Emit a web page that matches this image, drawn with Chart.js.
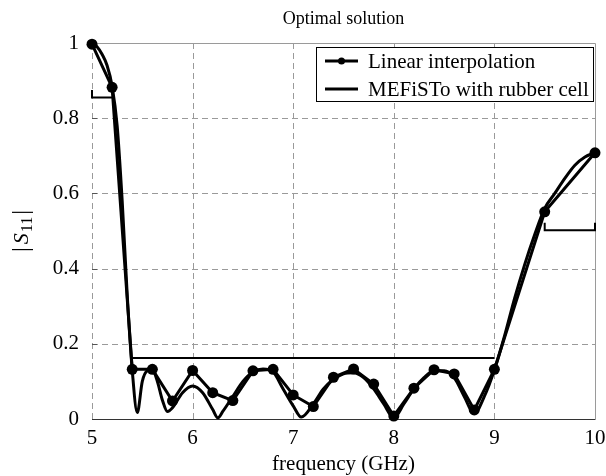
<!DOCTYPE html>
<html>
<head>
<meta charset="utf-8">
<script src="https://cdn.jsdelivr.net/npm/chart.js@4/dist/chart.umd.min.js"></script>
<style>
  body { margin: 0; background: #fff; }
  canvas { display: block; }
</style>
</head>
<body>
<canvas id="s11Chart" width="606" height="476"></canvas>
<script>
// Linear interpolation samples (GHz, |S11|)
const linFreq = [5, 5.2, 5.4, 5.6, 5.8, 6.0, 6.2, 6.4, 6.6, 6.8, 7.0, 7.2, 7.4, 7.6, 7.8, 8.0, 8.2, 8.4, 8.6, 8.8, 9.0, 9.5, 10];
const linS11 = [0.997, 0.882, 0.132, 0.132, 0.048, 0.129, 0.07, 0.049, 0.128, 0.132, 0.064, 0.033, 0.111, 0.133, 0.093, 0.008, 0.082, 0.131, 0.12, 0.024, 0.132, 0.551, 0.708];

// MEFiSTo with rubber cell
const mefFreq = [5.0, 5.05, 5.1, 5.15, 5.2, 5.25, 5.3, 5.35, 5.4, 5.45, 5.5, 5.55, 5.6, 5.65, 5.7, 5.75, 5.8, 5.9, 6.0, 6.1, 6.2, 6.25, 6.3, 6.4, 6.5, 6.6, 6.7, 6.8, 6.9, 7.0, 7.08, 7.2, 7.3, 7.4, 7.5, 7.6, 7.7, 7.8, 7.9, 8.0, 8.1, 8.2, 8.3, 8.4, 8.5, 8.6, 8.7, 8.8, 8.9, 9.0, 9.1, 9.2, 9.3, 9.4, 9.5, 9.6, 9.7, 9.8, 9.9, 10.0];
const mefS11 = [1.0, 0.99, 0.97, 0.94, 0.885, 0.78, 0.58, 0.33, 0.13, 0.017, 0.1, 0.128, 0.13, 0.1, 0.05, 0.02, 0.03, 0.07, 0.088, 0.07, 0.025, 0.003, 0.02, 0.06, 0.1, 0.125, 0.133, 0.125, 0.08, 0.035, 0.005, 0.04, 0.08, 0.105, 0.12, 0.123, 0.11, 0.08, 0.04, 0.003, 0.04, 0.08, 0.11, 0.128, 0.128, 0.11, 0.06, 0.015, 0.06, 0.13, 0.22, 0.32, 0.41, 0.49, 0.56, 0.6, 0.64, 0.675, 0.697, 0.708];

// specification mask segments
const mask1Freq = [5, 5, 5.2];
const mask1S11 = [0.875, 0.855, 0.855];
const mask2Freq = [5.4, 9.0];
const mask2S11 = [0.162, 0.162];
const mask3Freq = [9.5, 9.5, 10, 10];
const mask3S11 = [0.522, 0.502, 0.502, 0.522];

const xTicks = [5, 6, 7, 8, 9, 10];
const yTicks = [0, 0.2, 0.4, 0.6, 0.8, 1];

const legendLabels = ["Linear interpolation", "MEFiSTo with rubber cell"];
const titleText = "Optimal solution";
const xLabel = "frequency (GHz)";

const SERIF = "'Liberation Serif', 'Times New Roman', serif";

function toPoints(xs, ys) {
  return xs.map((x, i) => ({ x: x, y: ys[i] }));
}

function maskSet(xs, ys) {
  return {
    data: toPoints(xs, ys),
    borderColor: "#000",
    borderWidth: 2,
    pointRadius: 0,
    tension: 0,
    clip: false,
  };
}

// grid, frame, labels and legend box
const decorPlugin = {
  id: "decor",
  beforeDatasetsDraw(chart) {
    const ctx = chart.ctx;
    const a = chart.chartArea;
    const xs = chart.scales.x;
    const ys = chart.scales.y;
    ctx.save();
    ctx.lineWidth = 1;
    ctx.strokeStyle = "#9a9a9a";
    ctx.setLineDash([6, 4]);
    xTicks.slice(0, -1).forEach((v) => {
      const px = Math.round(xs.getPixelForValue(v)) + 0.5;
      ctx.beginPath();
      ctx.moveTo(px, a.top);
      ctx.lineTo(px, a.bottom);
      ctx.stroke();
    });
    yTicks.slice(1, -1).forEach((v) => {
      const py = Math.round(ys.getPixelForValue(v)) + 0.5;
      ctx.beginPath();
      ctx.moveTo(a.left, py);
      ctx.lineTo(a.right, py);
      ctx.stroke();
    });
    ctx.setLineDash([]);
    // solid top and right frame
    const top = Math.round(a.top) + 0.5;
    const right = Math.round(a.right) + 0.5;
    ctx.beginPath();
    ctx.moveTo(a.left, top);
    ctx.lineTo(right, top);
    ctx.lineTo(right, a.bottom);
    ctx.stroke();
    // small inward ticks on the left axis
    ctx.strokeStyle = "#555";
    yTicks.forEach((v) => {
      const py = Math.round(ys.getPixelForValue(v)) + 0.5;
      ctx.beginPath();
      ctx.moveTo(a.left, py);
      ctx.lineTo(a.left + 5, py);
      ctx.stroke();
    });
    // bottom axis
    ctx.strokeStyle = "#333";
    const bottom = Math.round(a.bottom) + 0.5;
    ctx.beginPath();
    ctx.moveTo(a.left, bottom);
    ctx.lineTo(right, bottom);
    ctx.stroke();
    ctx.restore();
  },
  afterDraw(chart) {
    const ctx = chart.ctx;
    const a = chart.chartArea;
    const cx = (a.left + a.right) / 2;
    ctx.save();
    ctx.fillStyle = "#000";
    ctx.textAlign = "center";
    ctx.textBaseline = "middle";
    ctx.font = "18px " + SERIF;
    ctx.fillText(titleText, cx, 19);
    ctx.font = "21px " + SERIF;
    ctx.fillText(xLabel, cx, 464);

    // y label |S11| rotated
    ctx.save();
    ctx.translate(22, (a.top + a.bottom) / 2);
    ctx.rotate(-Math.PI / 2);
    ctx.textAlign = "left";
    const parts = [
      { t: "|", f: "24px " + SERIF, dy: 0, gap: 3 },
      { t: "S", f: "italic 22px " + SERIF, dy: 0, gap: 1 },
      { t: "11", f: "16px " + SERIF, dy: 6, gap: 2 },
      { t: "|", f: "24px " + SERIF, dy: 0, gap: 0 },
    ];
    let w = 0;
    parts.forEach((p) => {
      ctx.font = p.f;
      p.w = ctx.measureText(p.t).width + p.gap;
      w += p.w;
    });
    let x = -w / 2;
    parts.forEach((p) => {
      ctx.font = p.f;
      ctx.fillText(p.t, x, p.dy);
      x += p.w;
    });
    ctx.restore();

    // legend box
    const bx = 316, by = 47, bw = 277, bh = 54;
    ctx.fillStyle = "#fff";
    ctx.fillRect(bx, by, bw, bh);
    ctx.strokeStyle = "#000";
    ctx.lineWidth = 1;
    ctx.strokeRect(bx + 0.5, by + 0.5, bw, bh);
    const rows = [61, 89];
    ctx.fillStyle = "#000";
    ctx.textAlign = "left";
    ctx.font = "21px " + SERIF;
    rows.forEach((ry, i) => {
      ctx.lineWidth = 3;
      ctx.beginPath();
      ctx.moveTo(325, ry);
      ctx.lineTo(358, ry);
      ctx.stroke();
      if (i === 0) {
        ctx.beginPath();
        ctx.arc(341.5, ry, 3.5, 0, Math.PI * 2);
        ctx.fill();
      }
      ctx.fillText(legendLabels[i], 368, ry + 1);
    });
    ctx.restore();
  },
};

const ctx = document.getElementById("s11Chart").getContext("2d");
new Chart(ctx, {
  type: "line",
  data: {
    datasets: [
      maskSet(mask1Freq, mask1S11),
      maskSet(mask2Freq, mask2S11),
      maskSet(mask3Freq, mask3S11),
      {
        data: toPoints(mefFreq, mefS11),
        borderColor: "#000",
        borderWidth: 3,
        pointRadius: 0,
        cubicInterpolationMode: "monotone",
        clip: false,
      },
      {
        data: toPoints(linFreq, linS11),
        borderColor: "#000",
        backgroundColor: "#000",
        borderWidth: 3,
        pointRadius: 5.5,
        pointBackgroundColor: "#000",
        pointBorderWidth: 0,
        tension: 0,
        clip: false,
      },
    ],
  },
  options: {
    responsive: false,
    animation: false,
    devicePixelRatio: 1,
    layout: { padding: { top: 43, right: 11, left: 0, bottom: 0 } },
    plugins: {
      legend: { display: false },
      tooltip: { enabled: false },
    },
    scales: {
      x: {
        type: "linear",
        min: 5,
        max: 10,
        afterFit: (s) => {
          s.height = 57;
          s.paddingLeft = 0;
          s.paddingRight = 0;
        },
        afterBuildTicks: (s) => { s.ticks = xTicks.map((v) => ({ value: v })); },
        grid: { display: false, drawTicks: false },
        border: { display: false },
        ticks: {
          padding: 7,
          color: "#000",
          font: { family: SERIF, size: 21 },
          maxRotation: 0,
        },
      },
      y: {
        type: "linear",
        min: 0,
        max: 1,
        afterFit: (s) => {
          s.width = 92;
          s.paddingTop = 0;
          s.paddingBottom = 0;
        },
        afterBuildTicks: (s) => { s.ticks = yTicks.map((v) => ({ value: v })); },
        grid: { display: false, drawTicks: false },
        border: { display: false },
        ticks: {
          padding: 13,
          color: "#000",
          font: { family: SERIF, size: 21 },
          callback: (v) => String(+v.toFixed(1)),
        },
      },
    },
  },
  plugins: [decorPlugin],
});
</script>
</body>
</html>
